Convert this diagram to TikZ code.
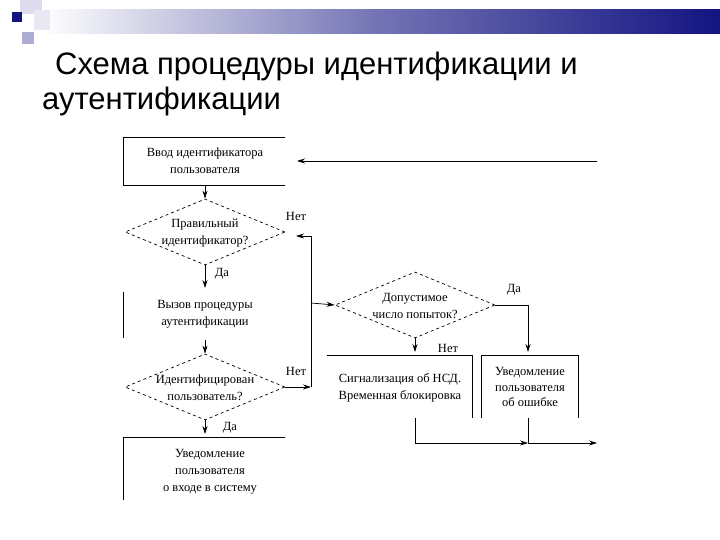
\documentclass[tikz,border=0pt]{standalone}
\usepackage{fontspec}
\setmainfont{Liberation Serif}
\newfontfamily\ttl{Liberation Sans}
\usetikzlibrary{shapes.geometric,arrows.meta}
\definecolor{navy}{RGB}{20,20,130}
\begin{document}
\begin{tikzpicture}[x=1pt,y=-1pt,
  lbl/.style={font=\fontsize{12.5}{17}\selectfont, align=center, inner sep=0},
  dia/.style={draw, dashed, diamond, aspect=2.5, inner sep=0, minimum width=160, minimum height=66},
  ar/.style={-{Stealth[length=8,width=5]}},
  ln/.style={line width=0.7}]
\useasboundingbox (0,0) rectangle (720,540);
\fill[white] (0,0) rectangle (720,540);
% decoration
\shade[left color=white, right color=navy, middle color=navy!60] (42,10) rectangle (720,34);
\fill[navy!15] (20,0) rectangle (42,14);
\fill[navy!35] (22,32) rectangle (34,44);
\fill[navy!10] (34,10) rectangle (50,30);
\fill[navy] (12,12) rectangle (22,22);
% title
\node[anchor=base west, font=\ttl\fontsize{31}{36}\selectfont, inner sep=0] (t1) at (55,75) {Схема процедуры идентификации и};
\node[anchor=base west, font=\ttl\fontsize{31}{36}\selectfont, inner sep=0] (t2) at (42,110) {аутентификации};
\begin{scope}[ln]
% box1
\draw (285,137) -- (123,137) -- (123,185) -- (285,185);
\node[lbl] (b1) at (205,161) {Ввод идентификатора\\пользователя};
\coordinate (in) at (597,161);
\coordinate (inend) at (297,161);
\draw[ar] (in) -- (inend);
% diamond1
\node[dia] (d1) at (205,232) {};
\node[lbl] at (205,233) {Правильный\\идентификатор?};
\draw[ar] (205,185) -- (d1.north);
\node[lbl] (n1) at (296,216) {Нет};
% box2
\draw (123,292) -- (123,338);
\node[lbl] (b2) at (205,314) {Вызов процедуры\\аутентификации};
\draw[ar] (d1.south) -- (205,288);
\node[lbl] (y1) at (222,274) {Да};
% diamond2
\node[dia] (d2) at (205,387) {};
\node[lbl] at (205,388) {Идентифицирован\\пользователь?};
\draw[ar] (205,340) -- (d2.north);
\node[lbl] (n2) at (296,371) {Нет};
\coordinate (c1) at (311,387);
\coordinate (c2) at (311,236);
\coordinate (c2e) at (296,236);
\draw[ar] (d2.east) -- (c1);
\draw (c1) -- (c2);
\draw[ar] (c2) -- (c2e);
% diamond3
\node[dia] (d3) at (415,305) {};
\node[lbl] at (415,306) {Допустимое\\число попыток?};
\coordinate (c3) at (311,303);
\draw[ar] (c3) -- (d3.west);
\node[lbl] (y3) at (514,290) {Да};
\node[lbl] (n3) at (448,348) {Нет};
% box3
\draw (327,355) -- (472,355) -- (472,418);
\node[lbl] (b3) at (400,388) {Сигнализация об НСД.\\Временная блокировка};
\draw[ar] (d3.south) -- (415,352);
% box4
\draw (481,418) -- (481,355) -- (578,355) -- (578,418);
\node[lbl, font=\fontsize{12.5}{15.5}\selectfont] (b4) at (530,387) {Уведомление\\пользователя\\об ошибке};
\coordinate (c4) at (528,305);
\draw (d3.east) -- (c4);
\draw[ar] (c4) -- (528,352);
% bottom
\coordinate (c5) at (415,443);
\coordinate (c6) at (528,443);
\coordinate (out) at (597,443);
\draw (415,418) -- (c5);
\draw[ar] (c5) -- (c6);
\draw (528,418) -- (c6);
\draw[ar] (c6) -- (out);
% box5
\draw[ar] (d2.south) -- (205,434);
\node[lbl] (y2) at (230,428) {Да};
\draw (285,437) -- (123,437) -- (123,500);
\node[lbl] (b5) at (210,472) {Уведомление\\пользователя\\о входе в систему};
\end{scope}
\end{tikzpicture}
\end{document}
